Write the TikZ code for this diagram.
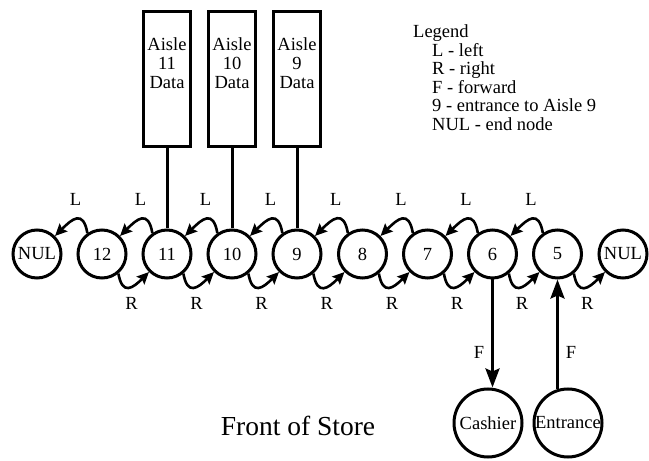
\documentclass[tikz,border=0pt]{standalone}
\usepackage{fontspec}
\setmainfont{Liberation Serif}
\newfontfamily\labelfont{Liberation Serif}
\usetikzlibrary{arrows.meta,calc}
\begin{document}
\begin{tikzpicture}[x=1pt,y=1pt,
  every node/.style={font=\labelfont\fontsize{18.5}{19}\selectfont},
  station/.style={circle,draw,line width=3pt,minimum size=48pt,inner sep=0pt},
  bigstation/.style={circle,draw,line width=3pt,minimum size=68pt,inner sep=0pt},
  aislebox/.style={rectangle,draw,line width=3pt,minimum width=47pt,minimum height=135pt,inner sep=0pt},
  boxtext/.style={align=center,anchor=north,inner sep=0pt},
  wire/.style={line width=3pt},
  link/.style={line width=2.6pt,-{Stealth[length=12pt,width=11pt,inset=2pt]}},
  flink/.style={line width=3pt,-{Stealth[length=19pt,width=14pt,inset=3pt]}},
  legendline/.style={anchor=base west,inner sep=0pt}
]
\useasboundingbox (0,0) rectangle (649,461);

% the chain of aisle nodes
\node[station] (nulL) at (37,207) {NUL};
\foreach \n/\x in {12/102,11/167,10/232,9/297,8/362.5,7/427.5,6/492.5,5/557.5}
  \node[station] (n\n) at (\x,207) {\n};
\node[station] (nulR) at (623,207) {NUL};

% left links
\foreach \b/\a in {n12/nulL,n11/n12,n10/n11,n9/n10,n8/n9,n7/n8,n6/n7,n5/n6} {
  \draw[link] (\b.125) to[out=100,in=45,looseness=1.9] (\a.45);
  \node (L-\b) at ($(\a)!0.5!(\b)+(6,55)$) {L};
}
% right links
\foreach \a/\b in {n12/n11,n11/n10,n10/n9,n9/n8,n8/n7,n7/n6,n6/n5,n5/nulR} {
  \draw[link] (\a.-50) to[out=-80,in=225,looseness=1.9] (\b.225);
  \node (R-\a) at ($(\a)!0.5!(\b)+(-3,-49)$) {R};
}

% aisle data boxes
\foreach \n in {11,10,9} {
  \path (n\n) ++(0,175) node[aislebox] (box\n) {};
  \node[boxtext] (boxlabel\n) at ($(box\n.north)+(0,-27)$) {Aisle\\\n\\Data};
  \draw[wire] (box\n) -- (n\n);
}

% cashier and entrance
\node[bigstation] (cashier) at (488,38) {Cashier};
\node[bigstation] (entrance) at (568,38) {Entrance};
\draw[flink] (n6) -- (n6 |- cashier.north);
\draw[flink] ($(n5 |- entrance.north)+(0,-2)$) -- (n5);
\node (F-cashier) at (479,109) {F};
\node (F-entrance) at (571,109) {F};

\node[font=\labelfont\fontsize{27.5}{28}\selectfont] (front) at (298,35) {Front of Store};

% legend
\node[legendline] (leg0) at (413,423) {Legend};
\node[legendline] (leg1) at (432,404.5) {L - left};
\node[legendline] (leg2) at (432,386) {R - right};
\node[legendline] (leg3) at (432,367.5) {F - forward};
\node[legendline] (leg4) at (432,349) {9 - entrance to Aisle 9};
\node[legendline] (leg5) at (432,330.5) {NUL - end node};
\end{tikzpicture}
\end{document}
